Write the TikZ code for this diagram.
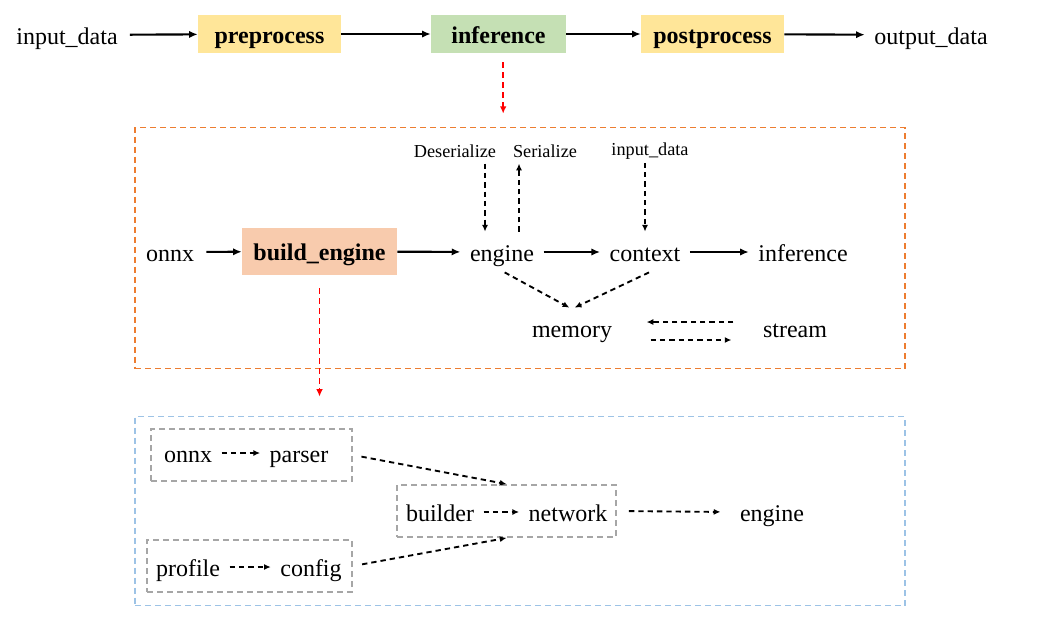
\documentclass[tikz,border=0pt]{standalone}
\usepackage{fontspec}
\setmainfont{Liberation Serif}
\usetikzlibrary{arrows.meta}
\definecolor{stageyellow}{HTML}{FFE699}
\definecolor{stagegreen}{HTML}{C5E0B4}
\definecolor{stageorange}{HTML}{F8CBAD}
\definecolor{frameorange}{HTML}{ED7D31}
\definecolor{frameblue}{HTML}{9DC3E6}
\definecolor{framegray}{HTML}{A6A6A6}

\begin{document}
\begin{tikzpicture}[x=0.75pt,y=-0.75pt,
  txt/.style={font=\fontsize{18}{20}\selectfont, inner sep=7pt,
    text height=14.85pt, text depth=1.35pt},
  small/.style={font=\fontsize{13.7}{15}\selectfont, inner sep=4pt,
    text height=11.1pt, text depth=1.2pt},
  stage/.style={font=\fontsize{18}{20}\selectfont\bfseries, inner sep=0pt,
    text height=14.85pt, text depth=1.35pt, minimum height=28.5pt},
  frame/.style={draw, line width=1.4pt, dash pattern=on 4.5pt off 3pt,
    inner sep=0pt},
  arr/.style={-{Latex[length=6.5pt,width=5.5pt]}, line width=1.6pt},
  darr/.style={-{Latex[length=5pt,width=4.5pt]}, line width=1.4pt,
    dash pattern=on 4pt off 3pt},
  rarr/.style={-{Latex[length=5.5pt,width=5pt]}, red, line width=1.3pt,
    dash pattern=on 4.5pt off 3pt}]
  \useasboundingbox (0,0) rectangle (1041,633);

  % pipeline
  \node[txt] (in) at (67,35) {input\_data};
  \node[stage, fill=stageyellow, minimum width=107.25pt] (pre) at (269.5,34) {preprocess};
  \node[stage, fill=stagegreen, minimum width=101.25pt] (inf) at (498.5,34) {inference};
  \node[stage, fill=stageyellow, minimum width=107.25pt] (post) at (712.5,34) {postprocess};
  \node[txt] (out) at (931,35) {output\_data};
  \draw[arr, shorten <=2pt] (in) -- (pre);
  \draw[arr] (pre) -- (inf);
  \draw[arr] (inf) -- (post);
  \draw[arr] (post) -- (out);

  % runtime
  \node[frame, draw=frameorange, minimum width=577.5pt, minimum height=180.75pt] (rt) at (520,248) {};
  \draw[rarr, shorten <=6.75pt, shorten >=11pt] ([xshift=3.5pt]inf.south) -- ++(0,75);
  \node[txt] (onnx) at (170,252) {onnx};
  \node[stage, fill=stageorange, minimum width=116.25pt, minimum height=35.25pt] (build) at (319.5,251.5) {build\_engine};
  \node[txt] (eng) at (502,252) {engine};
  \node[txt] (ctx) at (645,252) {context};
  \node[txt] (rinf) at (803,252) {inference};
  \node[small] (deser) at (455,151) {Deserialize};
  \node[small] (ser) at (545,151) {Serialize};
  \node[small] (data) at (650,149) {input\_data};
  \node[txt] (mem) at (572,328) {memory};
  \node[txt] (strm) at (795,328) {stream};
  \draw[arr, shorten <=2pt] (onnx) -- (build);
  \draw[arr] (build) -- (eng);
  \draw[arr] (eng) -- (ctx);
  \draw[arr] (ctx) -- (rinf);
  \draw[darr] ([xshift=-12.75pt]eng.north) ++(0,-68) -- ([xshift=-12.75pt]eng.north);
  \draw[darr] ([xshift=12.75pt]eng.north) -- ++(0,-68);
  \draw[darr] (data.south -| ctx.north) -- (ctx.north);
  \draw[darr] ([xshift=2pt]eng.south) -- ([xshift=-2pt]mem.north);
  \draw[darr] ([xshift=3pt]ctx.south) -- ([xshift=2pt]mem.north);
  \draw[darr, shorten <=15pt, shorten >=18.75pt] ([yshift=4.5pt]strm.west) -- ([yshift=4.5pt]mem.east);
  \draw[darr, shorten <=21.75pt, shorten >=16.5pt] ([yshift=-9pt]mem.east) -- ([yshift=-9pt]strm.west);

  % build
  \node[frame, draw=frameblue, minimum width=577.5pt, minimum height=141.75pt] (bd) at (520,511) {};
  \draw[rarr, shorten <=9.75pt, shorten >=14.25pt] (build.south) -- (bd.north -| build.south);
  \node[frame, draw=framegray, minimum width=150.75pt, minimum height=39pt] (g1) at (251.5,455) {};
  \node[frame, draw=framegray, minimum width=164.25pt, minimum height=39pt] (g2) at (506.5,511) {};
  \node[frame, draw=framegray, minimum width=153.75pt, minimum height=39pt] (g3) at (249.5,566) {};
  \node[txt] (bonnx) at (188,453) {onnx};
  \node[txt] (parser) at (299,453) {parser};
  \node[txt] (builder) at (440,512) {builder};
  \node[txt] (net) at (568,512) {network};
  \node[txt] (prof) at (188,567) {profile};
  \node[txt] (cfg) at (311,567) {config};
  \node[txt] (beng) at (772,512) {engine};
  \draw[darr] (bonnx) -- (parser);
  \draw[darr] (builder) -- (net);
  \draw[darr] (prof) -- (cfg);
  \draw[darr, shorten <=6.5pt] (g1.east) -- (g2.north);
  \draw[darr, shorten <=7pt] (g3.east) -- (g2.south);
  \draw[darr, shorten <=9pt, shorten >=7.5pt] (g2.east) -- (beng.west);
\end{tikzpicture}
\end{document}
